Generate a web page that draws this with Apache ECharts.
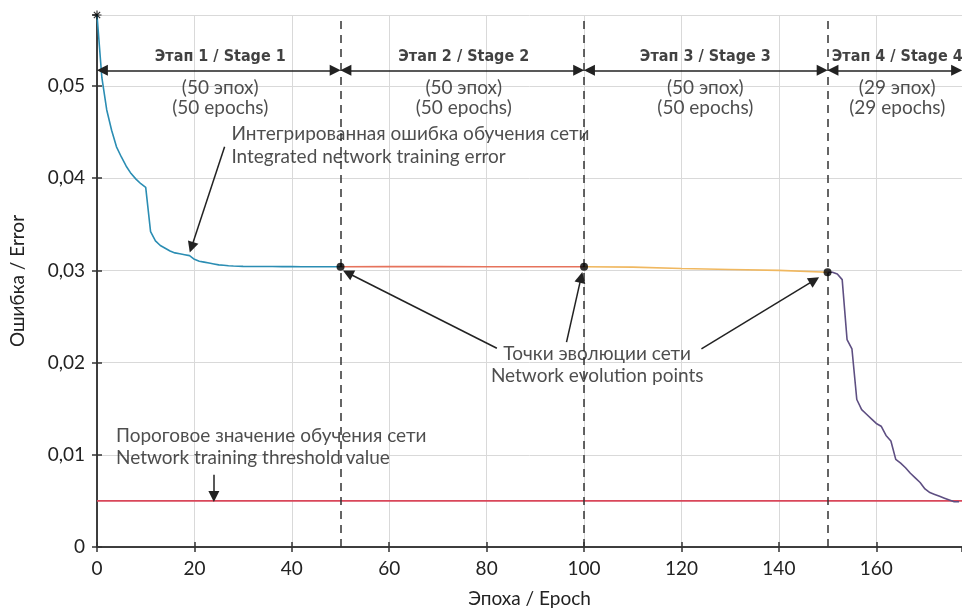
<!DOCTYPE html>
<html>
<head>
<meta charset="utf-8">
<script src="https://cdn.jsdelivr.net/npm/echarts@6/dist/echarts.min.js"></script>
<style>html,body{margin:0;padding:0;background:#fff}#c{width:962px;height:612px}</style>
</head>
<body>
<div id="c"></div>
<script>
// ---- data ----
const stage1Epochs = [0,1,2,3,4,5,6,7,8,9,10,11,12,13,14,15,16,17,18,19,20,21,22,23,24,25,26,27,28,29,30,32,34,36,38,40,42,44,46,48,50];
const stage1Values = [0.0577,0.0509,0.0474,0.0452,0.0434,0.0423,0.0413,0.0405,0.0399,0.0394,0.0390,0.0342,0.0332,0.0327,0.0324,0.0321,0.0319,0.0318,0.0317,0.0316,0.0312,0.0310,0.0309,0.0308,0.0307,0.0306,0.03055,0.0305,0.03047,0.03045,0.03044,0.03043,0.03042,0.03042,0.03041,0.03041,0.0304,0.0304,0.0304,0.0304,0.0304];
const stage2Epochs = [50,60,70,80,90,100];
const stage2Values = [0.0304,0.03041,0.03041,0.0304,0.0304,0.0304];
const stage3Epochs = [100,110,120,130,140,150];
const stage3Values = [0.0304,0.03035,0.0302,0.0301,0.03,0.0298];
const stage4Epochs = [150,151,152,153,154,155,156,157,158,159,160,161,162,163,164,165,166,167,168,169,170,171,172,173,174,175,176,177];
const stage4Values = [0.0298,0.0298,0.0296,0.029,0.0225,0.0215,0.016,0.0149,0.0144,0.0139,0.0134,0.0131,0.0121,0.0115,0.0095,0.0091,0.0086,0.008,0.0075,0.007,0.0063,0.0059,0.0057,0.0055,0.0053,0.0051,0.0049,0.0049];
const thresholdValue = 0.005;
const evolutionEpochs = [50,100,150];
const evolutionValues = [0.0304,0.0304,0.0298];
const stageBounds = [0,50,100,150,177.6];
const stageTitles = ['Этап 1 / Stage 1','Этап 2 / Stage 2','Этап 3 / Stage 3','Этап 4 / Stage 4'];
const stageCenters = [25.3,75.3,124.9,164.3];
const stageRu = ['(50 эпох)','(50 эпох)','(50 эпох)','(29 эпох)'];
const stageEn = ['(50 epochs)','(50 epochs)','(50 epochs)','(29 epochs)'];
const xTicks = [0,20,40,60,80,100,120,140,160];
const yTicks = [0,0.01,0.02,0.03,0.04,0.05];

const zip = (a,b) => a.map((v,i)=>[v,b[i]]);
const FONT = 'Lato, "Open Sans", sans-serif';
const BOLD = '"DejaVu Sans", sans-serif';

const chart = echarts.init(document.getElementById('c'));

const textItems = [];
stageTitles.forEach((t,i)=>{
  textItems.push({value:[stageCenters[i],0.05320], name:t, label:{fontFamily:BOLD,fontWeight:'bold condensed',fontSize:16,color:'#111'}});
  textItems.push({value:[stageCenters[i],0.04978], name:stageRu[i]});
  textItems.push({value:[stageCenters[i],0.04762], name:stageEn[i]});
});
textItems.push({value:[27.6,0.04478], name:'Интегрированная ошибка обучения сети', label:{align:'left'}});
textItems.push({value:[27.6,0.04229], name:'Integrated network training error', label:{align:'left'}});
textItems.push({value:[102.7,0.02094], name:'Точки эволюции сети'});
textItems.push({value:[102.7,0.01854], name:'Network evolution points'});
textItems.push({value:[3.9,0.01206], name:'Пороговое значение обучения сети', label:{align:'left'}});
textItems.push({value:[3.9,0.00964], name:'Network training threshold value', label:{align:'left'}});

const stageArrowY = 0.0517;
const stageArrows = [];
for (let i=0;i<4;i++){
  stageArrows.push([{coord:[stageBounds[i]+1.1,stageArrowY]},{coord:[stageBounds[i+1]-1.1,stageArrowY]}]);
}
const annArrows = [
  [{coord:[26.2,0.0434]},{coord:[19.4,0.0325]}],
  [{coord:[82.1,0.02156]},{coord:[51.5,0.02972]}],
  [{coord:[96.4,0.02222]},{coord:[99.4,0.02925]}],
  [{coord:[124.1,0.02148]},{coord:[147.3,0.02895]}],
  [{coord:[24.0,0.00783]},{coord:[24.0,0.00548]}]
];

const yFmt = v => v === 0 ? '0' : v.toFixed(2).replace('.',',');

chart.setOption({
  animation:false,
  backgroundColor:'#fff',
  grid:{left:97, right:0, top:15, bottom:65, containLabel:false, outerBoundsMode:'none'},
  xAxis:[{
    type:'value', min:0, max:177.6, interval:20,
    name:'Эпоха / Epoch', nameLocation:'middle', nameGap:42,
    nameTextStyle:{fontFamily:FONT,fontSize:19,color:'#222'},
    axisLine:{show:true,lineStyle:{color:'#333',width:1.5}},
    axisTick:{show:true,inside:true,length:5,lineStyle:{color:'#333',width:1.5}},
    axisLabel:{fontFamily:FONT,fontSize:19,color:'#222',margin:12,showMaxLabel:false,
      formatter:v=> xTicks.includes(v)? String(v):''},
    splitLine:{show:true,lineStyle:{color:'#d9d9d9',width:1}}
  },{
    type:'value', min:0, max:177.6, interval:20, position:'top',
    axisLine:{show:true,lineStyle:{color:'#333',width:1.5}},
    axisTick:{show:true,inside:true,length:5,lineStyle:{color:'#333',width:1.5}},
    axisLabel:{show:false}, splitLine:{show:false}
  }],
  yAxis:[{
    type:'value', min:0, max:0.0577, interval:0.01,
    name:'Ошибка / Error', nameLocation:'middle', nameGap:70, nameRotate:90,
    nameTextStyle:{fontFamily:FONT,fontSize:19,color:'#222'},
    axisLine:{show:true,lineStyle:{color:'#333',width:1.5}},
    axisTick:{show:true,inside:true,length:5,lineStyle:{color:'#333',width:1.5}},
    axisLabel:{fontFamily:FONT,fontSize:19,color:'#222',margin:12,showMaxLabel:false,
      formatter:v=> yTicks.some(t=>Math.abs(t-v)<1e-9)? yFmt(v):''},
    splitLine:{show:true,lineStyle:{color:'#d9d9d9',width:1}}
  },{
    type:'value', min:0, max:0.0577, interval:0.01, position:'right',
    axisLine:{show:true,lineStyle:{color:'#333',width:1.5}},
    axisTick:{show:true,inside:true,length:5,lineStyle:{color:'#333',width:1.5}},
    axisLabel:{show:false}, splitLine:{show:false}
  }],
  series:[
    {type:'line', data:zip(stage1Epochs,stage1Values), showSymbol:false, symbol:'none',
      lineStyle:{color:'#2b8db3',width:1.6}, z:3},
    {type:'line', data:zip(stage2Epochs,stage2Values), showSymbol:false, symbol:'none',
      lineStyle:{color:'#e6735c',width:1.6}, z:3},
    {type:'line', data:zip(stage3Epochs,stage3Values), showSymbol:false, symbol:'none',
      lineStyle:{color:'#f0b860',width:1.6}, z:3},
    {type:'line', data:zip(stage4Epochs,stage4Values), showSymbol:false, symbol:'none',
      lineStyle:{color:'#5e4f82',width:1.6}, z:3},
    {type:'line', data:[[0,thresholdValue],[177.6,thresholdValue]], showSymbol:false, symbol:'none',
      lineStyle:{color:'#d9475a',width:1.6}, z:2},
    {type:'scatter', data:zip(evolutionEpochs,evolutionValues), symbolSize:8,
      itemStyle:{color:'#000'}, z:6},
    {type:'scatter', data:[[0,0.0577]], symbol:'path://M0,5L10,5M5,0L5,10M1.5,1.5L8.5,8.5M8.5,1.5L1.5,8.5',
      symbolSize:9, itemStyle:{color:'none',borderColor:'#000',borderWidth:1.2}, z:7},
    {type:'scatter', data:[], silent:true,
      markLine:{silent:true, symbol:'none', label:{show:false},
        lineStyle:{color:'#333',type:[8,6],width:1.5},
        data:[{xAxis:50},{xAxis:100},{xAxis:150}]}, z:4},
    {type:'scatter', data:[], silent:true,
      markLine:{silent:true, symbol:['triangle','triangle'], symbolSize:11, label:{show:false},
        lineStyle:{color:'#222',type:'solid',width:1.5}, itemStyle:{color:'#111'},
        data:stageArrows}, z:5},
    {type:'scatter', data:[], silent:true,
      markLine:{silent:true, symbol:['none','triangle'], symbolSize:11, label:{show:false},
        lineStyle:{color:'#222',type:'solid',width:1.5}, itemStyle:{color:'#111'},
        data:annArrows}, z:5},
    {type:'scatter', data:textItems, symbolSize:0, silent:true, z:8,
      label:{show:true, position:'inside', formatter:'{b}', fontFamily:FONT, fontSize:19, color:'#222',
        align:'center', verticalAlign:'middle'}}
  ]
});
</script>
</body>
</html>
